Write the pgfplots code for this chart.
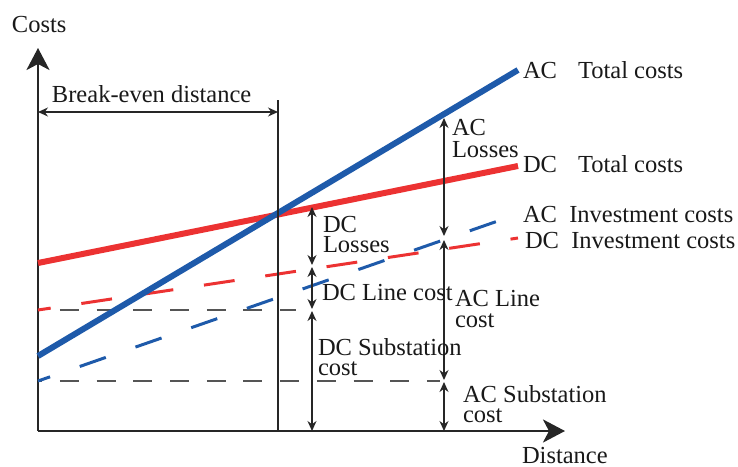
\documentclass[border=0pt]{standalone}
\usepackage{fontspec}
\setmainfont{Liberation Serif}
\usepackage{pgfplots}
\pgfplotsset{compat=1.18}
\usetikzlibrary{arrows.meta}
\definecolor{acblue}{RGB}{30,90,170}
\definecolor{dcred}{RGB}{236,50,50}
\definecolor{guide}{RGB}{85,85,85}
\begin{document}
\fontsize{12.25}{14}\selectfont
\begin{tikzpicture}[
 dim/.style={{Stealth[length=5pt,width=4.5pt]}-{Stealth[length=5pt,width=4.5pt]}, line width=0.65pt, black!85},
 lab/.style={anchor=base west, inner sep=0pt, outer sep=0pt, text=black!90, font=\fontsize{12.25}{14}\selectfont}]
\begin{axis}[
 scale only axis, width=263.5pt, height=191.5pt,
 xmin=0, xmax=527, ymin=0, ymax=383,
 axis lines=left, ticks=none, clip=false,
 every outer x axis line/.append style={line width=1.4pt, black!85, -{Stealth[length=11pt,width=11.5pt,inset=3pt]}},
 every outer y axis line/.append style={line width=1.4pt, black!85, -{Stealth[length=11pt,width=11.5pt,inset=3pt]}},
]
% bounding box
\path (axis cs:-38,-35) rectangle (axis cs:700,431);
% guide lines
\addplot[guide, line width=0.9pt, dash pattern=on 9.5pt off 8.85pt, dash phase=7.35pt] coordinates {(0,121) (258,121)};
\addplot[guide, line width=0.9pt, dash pattern=on 9.5pt off 8.85pt, dash phase=7.35pt] coordinates {(0,50) (402,50)};
% investment costs
\addplot[acblue, line width=1.5pt, dash pattern=on 13.8pt off 15.7pt, dash phase=7.4pt] coordinates {(0,50) (480,217)};
\addplot[dcred, line width=1.5pt, dash pattern=on 15.5pt off 15.5pt, dash phase=9.1pt] coordinates {(0,121) (480,193)};
% total costs
\addplot[dcred, line width=3pt] coordinates {(0,168) (480,265)};
\addplot[acblue, line width=3pt] coordinates {(0,75) (480,361)};
% break-even
\draw[line width=0.75pt, black!85] (axis cs:240,0) -- (axis cs:240,331);
\draw[dim] (axis cs:0,319) -- (axis cs:240,319);
% DC dims
\draw[dim] (axis cs:274,224) -- (axis cs:274,166);
\draw[dim] (axis cs:274,164) -- (axis cs:274,122);
\draw[dim] (axis cs:274,120) -- (axis cs:274,0);
% AC dims
\draw[dim] (axis cs:406,313) -- (axis cs:406,195);
\draw[dim] (axis cs:406,191) -- (axis cs:406,51);
\draw[dim] (axis cs:406,49) -- (axis cs:406,0);
% labels
\node[lab] at (axis cs:-26,399) {Costs};
\node[lab] at (axis cs:484,-32) {Distance};
\node[lab] at (axis cs:14,329) {Break-even distance};
\node[lab] at (axis cs:485,353) {AC\hspace{0.86em}Total costs};
\node[lab] at (axis cs:485,259) {DC\hspace{0.86em}Total costs};
\node[lab] at (axis cs:485,209) {AC\hspace{0.5em}Investment costs};
\node[lab] at (axis cs:487,183) {DC\hspace{0.5em}Investment costs};
\node[lab] at (axis cs:414,296) {AC};
\node[lab] at (axis cs:414,274) {Losses};
\node[lab] at (axis cs:285,199) {DC};
\node[lab] at (axis cs:285,179) {Losses};
\node[lab] at (axis cs:284,131) {DC Line cost};
\node[lab] at (axis cs:280,76) {DC Substation};
\node[lab] at (axis cs:280,56) {cost};
\node[lab] at (axis cs:417,125) {AC Line};
\node[lab] at (axis cs:417,104) {cost};
\node[lab] at (axis cs:425,29) {AC Substation};
\node[lab] at (axis cs:425,9) {cost};
\end{axis}
\end{tikzpicture}
\end{document}
